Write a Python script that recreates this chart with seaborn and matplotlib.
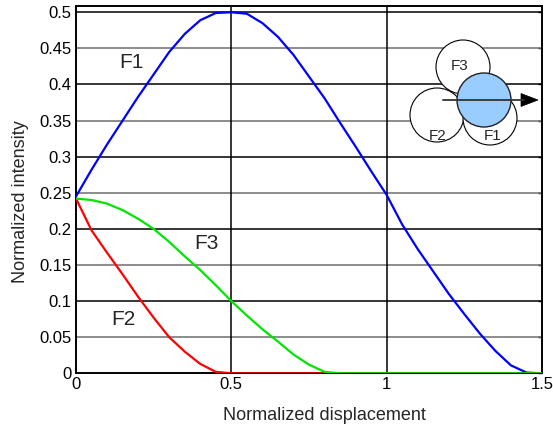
import numpy as np
import pandas as pd
import matplotlib
matplotlib.use("Agg")
import matplotlib.pyplot as plt
from matplotlib.patches import Circle, Polygon
import seaborn as sns

# ---- data ----
x_vals = [0.00, 0.05, 0.10, 0.15, 0.20, 0.25, 0.30, 0.35, 0.40, 0.45,
          0.50, 0.55, 0.60, 0.65, 0.70, 0.75, 0.80, 0.85, 0.90, 0.95,
          1.00, 1.05, 1.10, 1.15, 1.20, 1.25, 1.30, 1.35, 1.40, 1.45, 1.50]
f1_vals = [0.245, 0.282, 0.317, 0.350, 0.383, 0.414, 0.445, 0.470, 0.489, 0.499,
           0.500, 0.498, 0.485, 0.466, 0.441, 0.411, 0.381, 0.347, 0.314, 0.280,
           0.247, 0.206, 0.172, 0.141, 0.110, 0.082, 0.055, 0.031, 0.011, 0.001, 0.000]
f2_vals = [0.242, 0.198, 0.167, 0.137, 0.106, 0.077, 0.050, 0.030, 0.013, 0.002,
           0.000, 0.000, 0.000, 0.000, 0.000, 0.000, 0.000, 0.000, 0.000, 0.000,
           0.000, 0.000, 0.000, 0.000, 0.000, 0.000, 0.000, 0.000, 0.000, 0.000, 0.000]
f3_vals = [0.242, 0.240, 0.235, 0.226, 0.214, 0.200, 0.182, 0.162, 0.143, 0.122,
           0.100, 0.080, 0.061, 0.044, 0.026, 0.012, 0.002, 0.000, 0.000, 0.000,
           0.000, 0.000, 0.000, 0.000, 0.000, 0.000, 0.000, 0.000, 0.000, 0.000, 0.000]
series_names = ["F1", "F2", "F3"]
series_colors = ["#0000ff", "#ff0000", "#00e600"]
x_ticks = [0, 0.5, 1, 1.5]
x_tick_labels = ["0", "0.5", "1", "1.5"]
y_ticks = [0, 0.05, 0.1, 0.15, 0.2, 0.25, 0.3, 0.35, 0.4, 0.45, 0.5]
y_tick_labels = ["0", "0.05", "0.1", "0.15", "0.2", "0.25", "0.3", "0.35", "0.4", "0.45", "0.5"]

df = pd.DataFrame({
    "x": x_vals * 3,
    "y": f1_vals + f2_vals + f3_vals,
    "series": sum([[n] * len(x_vals) for n in series_names], []),
})

sns.set_style("white")
plt.rcParams["font.family"] = ["Liberation Sans", "DejaVu Sans"]

W, H = 553, 428
fig = plt.figure(figsize=(W / 100, H / 100), dpi=100)
L, R, B, T = 76, 542, 373.3, 6
ax = fig.add_axes([L / W, 1 - B / H, (R - L) / W, (B - T) / H])

# grid lines
for i, yt in enumerate(y_ticks[1:], start=1):
    ax.axhline(yt, color="black" if i % 2 == 0 else "#6e6e6e", lw=1.1, zorder=1)
for xt in x_ticks[1:-1]:
    ax.axvline(xt, color="black", lw=1.1, zorder=1)

sns.lineplot(data=df, x="x", y="y", hue="series", palette=series_colors,
             hue_order=series_names, linewidth=1.6, legend=False, ax=ax, zorder=3)

ax.set_xlim(0, 1.5)
ax.set_ylim(0, 0.5087)
ax.set_xticks(x_ticks)
ax.set_xticklabels(x_tick_labels)
ax.set_yticks(y_ticks)
ax.set_yticklabels(y_tick_labels)
ax.tick_params(direction="in", length=3, width=1, labelsize=12, pad=3,
               top=False, right=True, colors="black")
for s in ax.spines.values():
    s.set_color("black")
    s.set_linewidth(1.4)
    s.set_visible(True)

ax.set_xlabel("Normalized displacement", fontsize=13, va="top")
ax.set_ylabel("Normalized intensity", fontsize=13)
ax.xaxis.set_label_coords(0.534, -0.092)
ax.yaxis.set_label_coords(-0.100, 0.467)

ax.text(0.18, 0.431, "F1", fontsize=15, ha="center", va="center", zorder=4)
ax.text(0.42, 0.180, "F3", fontsize=15, ha="center", va="center", zorder=4)
ax.text(0.151, 0.074, "F2", fontsize=15, ha="center", va="center", zorder=4)

# ---- inset schematic (pixel coordinates) ----
x0, x1, y0, y1 = 400, 552, 28, 152
ins = fig.add_axes([x0 / W, 1 - y1 / H, (x1 - x0) / W, (y1 - y0) / H])
ins.set_xlim(x0, x1)
ins.set_ylim(y1, y0)
ins.axis("off")
ins.patch.set_alpha(0)
r = 27
for (cx, cy), lab, (tx, ty) in [((463, 67), "F3", (460, 66)),
                                ((437, 115), "F2", (438, 136)),
                                ((490, 118), "F1", (493, 136))]:
    ins.add_patch(Circle((cx, cy), r, facecolor="white", edgecolor="black", lw=0.8))
    ins.text(tx, ty, lab, fontsize=11, ha="center", va="center")
ins.add_patch(Circle((484, 100), r, facecolor="#99ccff", edgecolor="#222222", lw=1.0))
ins.plot([443, 524], [100, 100], color="#333333", lw=1.3)
ins.add_patch(Polygon([[521, 93.5], [538, 100], [521, 106.5]], closed=True,
                      facecolor="black", edgecolor="black", lw=0.5))

fig.savefig("out.png", dpi=100)
